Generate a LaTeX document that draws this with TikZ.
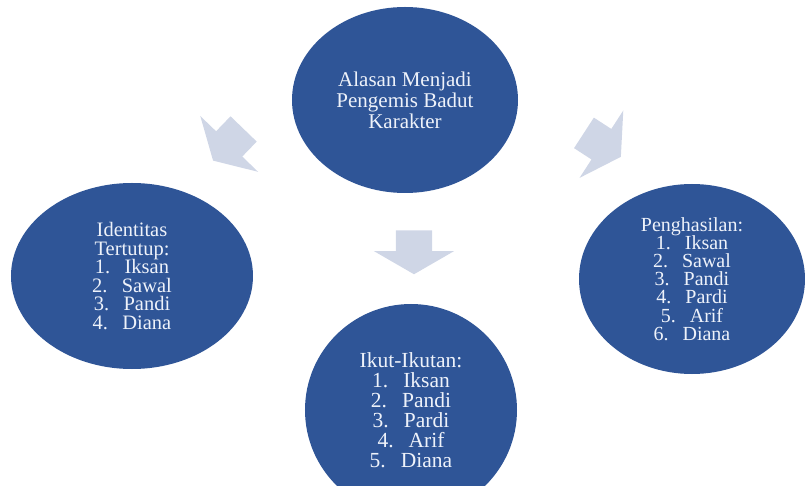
\documentclass[tikz,border=0pt]{standalone}
\usepackage{fontspec}
\setmainfont{Liberation Serif}
\usepackage{tikz}
\usetikzlibrary{shapes.geometric, shapes.arrows}

\definecolor{circblue}{HTML}{2F5597}
\definecolor{arrowgray}{HTML}{CFD6E6}
\definecolor{textwhite}{HTML}{EEF2FA}

\newcommand{\nameline}[2]{#1.\hspace{0.7em}#2}

\begin{document}
\begin{tikzpicture}[node distance=176pt]
\tikzstyle{bubble} = [ellipse, inner sep=0pt, text centered, align=center, fill=circblue, text=textwhite, font=\fontsize{21}{21}\selectfont]
\tikzstyle{pointer} = [single arrow, inner xsep=0pt, inner ysep=18pt, minimum height=44pt, minimum width=80pt, single arrow head extend=22pt, single arrow tip angle=120, fill=arrowgray]

\useasboundingbox (-405pt,100pt) rectangle (400pt,-386pt);

\node (reason) [bubble, minimum width=226pt, minimum height=186pt] {Alasan Menjadi\\Pengemis Badut\\Karakter};
\node (ident) [bubble, below of=reason, xshift=-273pt, minimum width=242pt, minimum height=186pt, font=\fontsize{20.5}{18.6}\selectfont] {Identitas\\Tertutup:\\\nameline{1}{Iksan}\\\nameline{2}{Sawal}\\\nameline{3}{Pandi}\\\nameline{4}{Diana}};
\node (income) [bubble, below of=reason, xshift=287pt, yshift=-3pt, minimum width=226pt, minimum height=190pt, font=\fontsize{20}{18.2}\selectfont] {Penghasilan:\\\nameline{1}{Iksan}\\\nameline{2}{Sawal}\\\nameline{3}{Pandi}\\\nameline{4}{Pardi}\\\nameline{5}{Arif}\\\nameline{6}{Diana}};
\node (follow) [bubble, below of=reason, xshift=6pt, yshift=-134pt, minimum width=212pt, minimum height=212pt, font=\fontsize{21.5}{20}\selectfont] {Ikut-Ikutan:\\\nameline{1}{Iksan}\\\nameline{2}{Pandi}\\\nameline{3}{Pardi}\\\nameline{4}{Arif}\\\nameline{5}{Diana}};

\node (toident) [pointer, below of=reason, xshift=-173pt, yshift=135pt, rotate=226] {};
\node (tofollow) [pointer, below of=reason, xshift=9pt, yshift=29pt, rotate=-90] {};
\node (toincome) [pointer, below of=reason, xshift=193pt, yshift=134pt, rotate=-33] {};

\end{tikzpicture}
\end{document}
